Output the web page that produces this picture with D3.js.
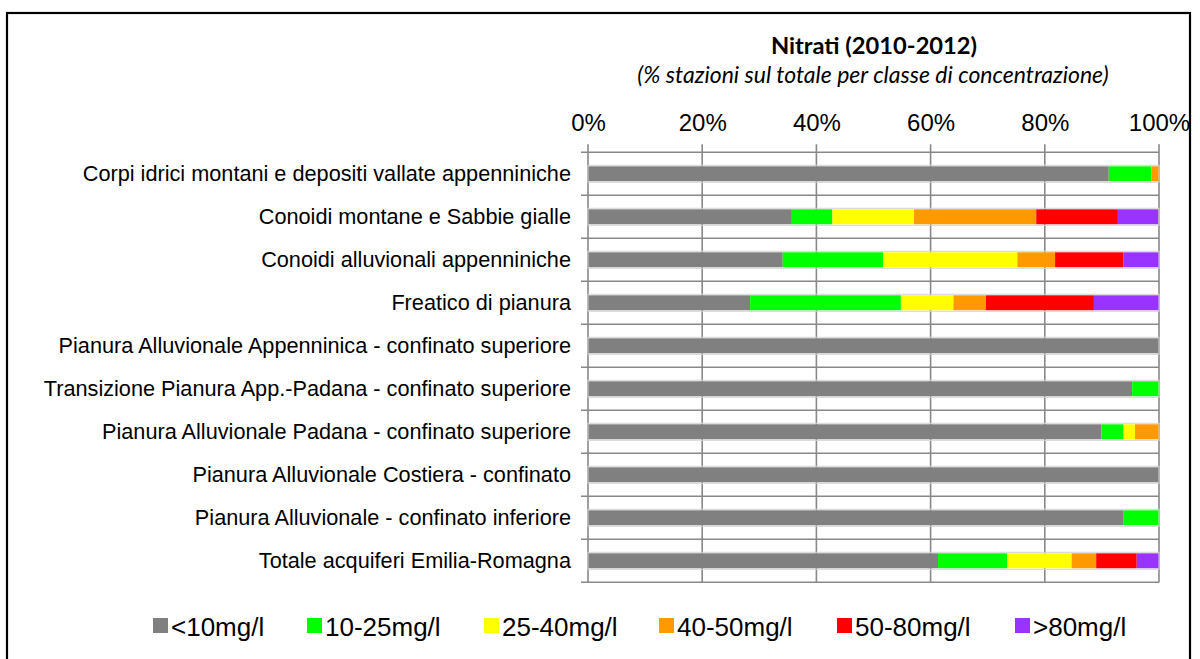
<!DOCTYPE html>
<html lang="it">
<head>
  <meta charset="UTF-8">
  <title>Nitrati (2010-2012)</title>
  <script src="https://d3js.org/d3.v7.min.js"></script>
  <style>
    body { margin: 0; background: #fff; }
    svg { display: block; }
    .cat text { font-family: "Liberation Sans", Arial, sans-serif; font-size: 21.7px; fill: #000; }
    .xax text { font-family: "Liberation Sans", Arial, sans-serif; font-size: 24px; fill: #000; }
    .legend text { font-family: "Liberation Sans", Arial, sans-serif; font-size: 26px; fill: #000; }
  </style>
</head>
<body>
  <svg width="1200" height="659"></svg>
  <script>
    const categories = [
      "Corpi idrici montani e depositi vallate appenniniche",
      "Conoidi montane e Sabbie gialle",
      "Conoidi alluvionali appenniniche",
      "Freatico di pianura",
      "Pianura Alluvionale Appenninica - confinato superiore",
      "Transizione Pianura App.-Padana - confinato superiore",
      "Pianura Alluvionale Padana - confinato superiore",
      "Pianura Alluvionale Costiera - confinato",
      "Pianura Alluvionale - confinato inferiore",
      "Totale acquiferi Emilia-Romagna"
    ];
    const classes = ["<10mg/l", "10-25mg/l", "25-40mg/l", "40-50mg/l", "50-80mg/l", ">80mg/l"];
    const colors = ["#808080", "#00ff00", "#ffff00", "#ff9900", "#ff0000", "#9933ff"];

    // % stazioni per classe, one array per class, in category order
    const lt10   = [91.2, 35.7, 34.1, 28.4, 100, 95.3, 89.9, 100, 93.8, 61.3];
    const c10_25 = [7.5, 7.1, 17.6, 26.4, 0, 4.7, 3.9, 0, 6.2, 12.1];
    const c25_40 = [0, 14.3, 23.5, 9.2, 0, 0, 2.0, 0, 0, 11.3];
    const c40_50 = [1.3, 21.4, 6.6, 5.7, 0, 0, 4.2, 0, 0, 4.3];
    const c50_80 = [0, 14.3, 12.0, 18.9, 0, 0, 0, 0, 0, 7.1];
    const gt80   = [0, 7.1, 6.2, 11.4, 0, 0, 0, 0, 0, 3.9];
    const xTicks = [0, 20, 40, 60, 80, 100];

    const seriesValues = [lt10, c10_25, c25_40, c40_50, c50_80, gt80];
    const rows = categories.map((c, i) => {
      const r = { cat: c };
      classes.forEach((k, j) => { r[k] = seriesValues[j][i]; });
      return r;
    });

    const svg = d3.select("svg");
    const plotLeft = 588, plotRight = 1159, plotTop = 152.3, plotBottom = 582.3;

    // outer frame
    svg.append("rect")
      .attr("x", 7).attr("y", 13).attr("width", 1183).attr("height", 700)
      .attr("fill", "none").attr("stroke", "#000").attr("stroke-width", 2.2);

    // titles
    svg.append("text")
      .attr("x", 874).attr("y", 54)
      .attr("text-anchor", "middle")
      .style("font-family", "Lato, 'Open Sans', sans-serif")
      .style("font-weight", "bold").style("font-size", "23.7px")
      .text("Nitrati (2010-2012)");
    svg.append("text")
      .attr("x", 873).attr("y", 83)
      .attr("text-anchor", "middle")
      .style("font-family", "Lato, 'Open Sans', sans-serif")
      .style("font-style", "italic").style("font-size", "23px")
      .text("(% stazioni sul totale per classe di concentrazione)");

    const x = d3.scaleLinear().domain([0, 100]).range([plotLeft, plotRight]);
    const y = d3.scaleBand().domain(categories).range([plotTop, plotBottom]).padding(0);

    // vertical gridlines
    svg.append("g").selectAll("line")
      .data(xTicks).join("line")
      .attr("x1", d => x(d)).attr("x2", d => x(d))
      .attr("y1", plotTop - 8).attr("y2", plotBottom)
      .attr("stroke", "#888").attr("stroke-width", 1.6);

    // horizontal gridlines at category boundaries
    const bounds = categories.map(c => y(c)).concat([y(categories[categories.length - 1]) + y.bandwidth()]);
    svg.append("g").selectAll("line")
      .data(bounds).join("line")
      .attr("x1", plotLeft - 7).attr("x2", plotRight)
      .attr("y1", d => d).attr("y2", d => d)
      .attr("stroke", "#888").attr("stroke-width", 1.6);

    // top axis labels
    svg.append("g")
      .attr("class", "xax")
      .attr("transform", `translate(0,${plotTop})`)
      .call(d3.axisTop(x).tickValues(xTicks).tickFormat(d => d + "%").tickSize(8).tickPadding(13))
      .call(g => g.select(".domain").remove())
      .call(g => g.selectAll(".tick line").remove());

    // category labels
    svg.append("g")
      .attr("class", "cat")
      .attr("transform", `translate(${plotLeft},0)`)
      .call(d3.axisLeft(y).tickSize(0).tickPadding(17))
      .call(g => g.select(".domain").remove())
      .call(g => g.selectAll(".tick text").attr("dy", "0.35em"));

    // stacked bars
    const stack = d3.stack().keys(classes);
    const layers = stack(rows);
    const barH = 15;
    svg.append("g").selectAll("g")
      .data(layers).join("g")
      .attr("fill", (d, i) => colors[i])
      .selectAll("rect")
      .data(d => d.filter(s => s[1] - s[0] > 0))
      .join("rect")
      .attr("x", d => x(d[0]))
      .attr("width", d => x(d[1]) - x(d[0]))
      .attr("y", d => y(d.data.cat) + y.bandwidth() / 2 - barH / 2)
      .attr("height", barH);

    // light outline round each bar
    svg.append("g").selectAll("rect")
      .data(rows).join("rect")
      .attr("x", x(0)).attr("width", x(100) - x(0))
      .attr("y", d => y(d.cat) + y.bandwidth() / 2 - barH / 2 - 1)
      .attr("height", barH + 2)
      .attr("fill", "none").attr("stroke", "#d4d4d4").attr("stroke-width", 1);

    // legend
    const legend = svg.append("g").attr("class", "legend");
    const legendX = [153, 307, 484, 659, 837, 1015];
    classes.forEach((k, i) => {
      const it = legend.append("g").attr("transform", `translate(${legendX[i]},618)`);
      it.append("rect").attr("width", 15).attr("height", 15).attr("fill", colors[i]);
      it.append("text").attr("x", 18).attr("y", 18).text(k);
    });
  </script>
</body>
</html>
